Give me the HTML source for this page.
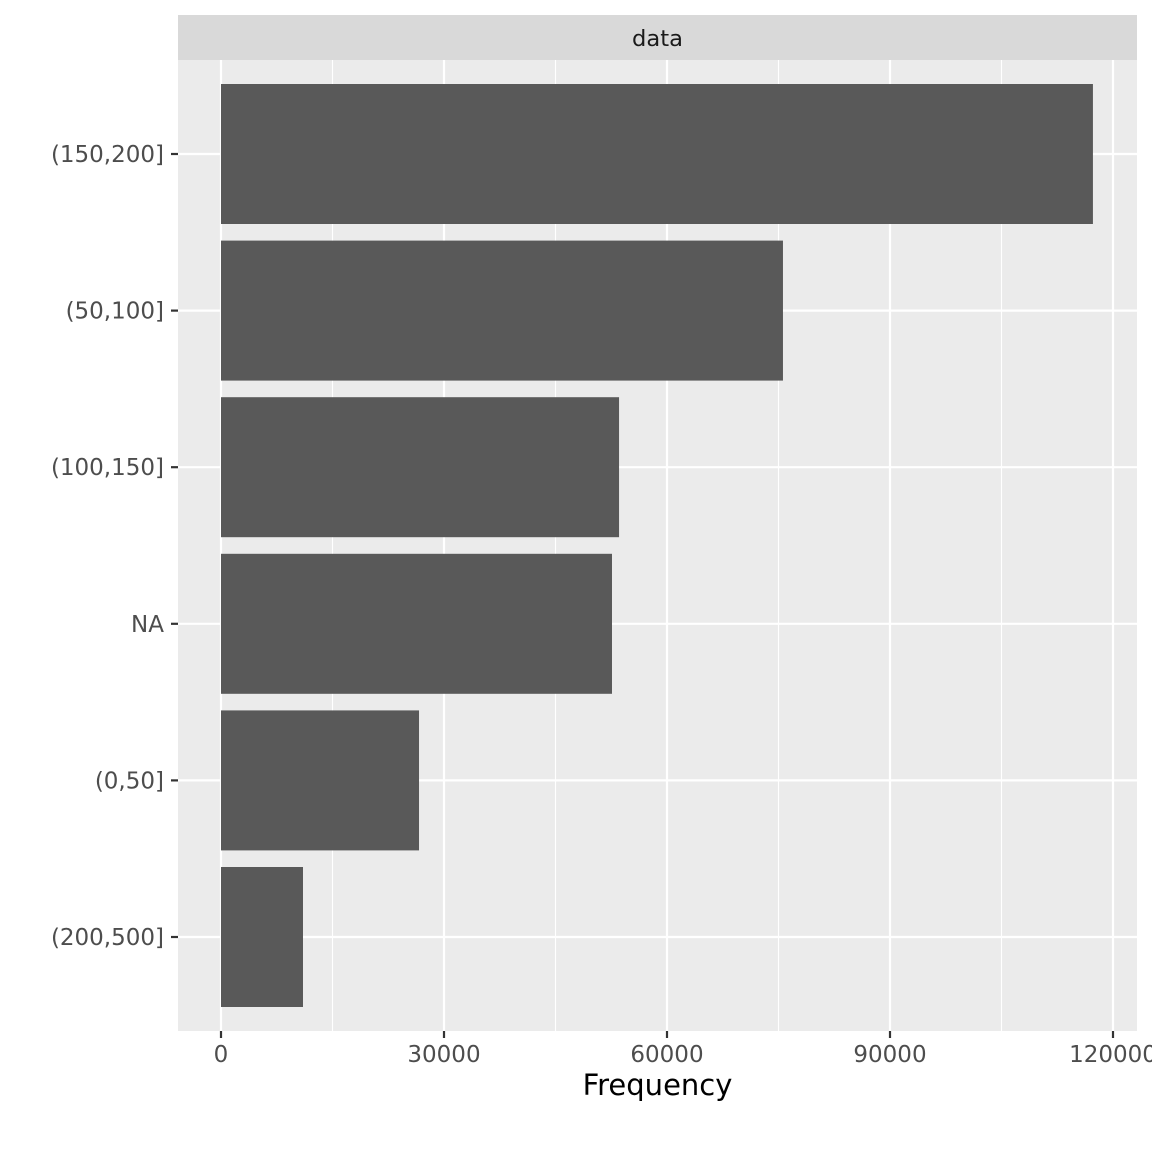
<!DOCTYPE html>
<html><head><meta charset="utf-8"><style>
html,body{margin:0;padding:0;background:#fff;}
svg text{font-family:"DejaVu Sans","Liberation Sans",sans-serif;}
</style></head><body>
<svg id="chart" width="1152" height="1152" xmlns="http://www.w3.org/2000/svg">
<rect x="178" y="15" width="959" height="45" fill="#d9d9d9"/>
<text x="657.5" y="46" font-size="22.6" text-anchor="middle" fill="#1a1a1a">data</text>
<rect x="178" y="60" width="959" height="971" fill="#ebebeb"/>
<g id="grid"></g><g id="bars"></g><g id="axes"></g>
<text x="657.5" y="1095" font-size="29" text-anchor="middle" fill="#000">Frequency</text>
</svg>
<script>
const categories = ["(150,200]","(50,100]","(100,150]","NA","(0,50]","(200,500]"];
const values = [117300, 75600, 53550, 52600, 26640, 11030];
const xTicks = [0, 30000, 60000, 90000, 120000];
const xTickLabels = ["0","30000","60000","90000","120000"];

const NS="http://www.w3.org/2000/svg";
const x0=221, pxPer=223/30000;
function xs(v){return x0+v*pxPer;}
const yTop=154, yStep=156.6, barH=140;
function ys(i){return yTop+i*yStep;}
function mk(t,a,p){const e=document.createElementNS(NS,t);for(const k in a)e.setAttribute(k,a[k]);p.appendChild(e);return e;}
const grid=document.getElementById('grid'),bars=document.getElementById('bars'),axes=document.getElementById('axes');
for(let i=0;i<xTicks.length-1;i++){
  const m=xs((xTicks[i]+xTicks[i+1])/2);
  const l=mk('line',{x1:m,x2:m,y1:60,y2:1031,stroke:'#fff','stroke-width':1.1},grid);
  
  
}
xTicks.forEach((t,i)=>{
  const x=xs(t);
  const l=mk('line',{x1:x,x2:x,y1:60,y2:1031,stroke:'#fff','stroke-width':2.2},grid);
  
  
  const tk=mk('line',{x1:x,x2:x,y1:1031,y2:1038,stroke:'#333','stroke-width':2.2},axes);
  
  
  const tx=mk('text',{x:x,y:1062,'font-size':23,'text-anchor':'middle',fill:'#4d4d4d'},axes);
  tx.textContent=xTickLabels[i];
  
  
});
categories.forEach((c,i)=>{
  const y=ys(i);
  const l=mk('line',{x1:178,x2:1137,y1:y,y2:y,stroke:'#fff','stroke-width':2.2},grid);
  
  
  const r=mk('rect',{x:x0,y:y-barH/2,width:xs(values[i])-x0,height:barH,fill:'#595959'},bars);
  
  
  const tk=mk('line',{x1:171,x2:178,y1:y,y2:y,stroke:'#333','stroke-width':2.2},axes);
  
  
  const tx=mk('text',{x:164,y:y+8,'font-size':23,'text-anchor':'end',fill:'#4d4d4d'},axes);
  tx.textContent=c;
  
  
});
</script>
</body></html>
